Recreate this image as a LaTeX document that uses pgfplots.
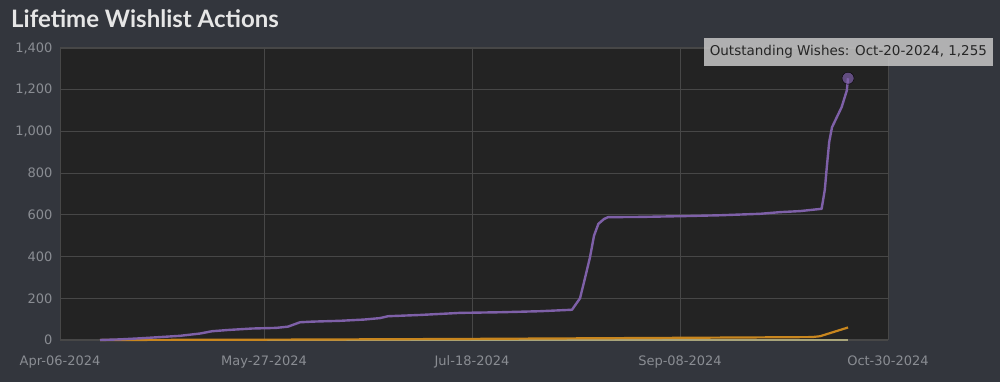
\documentclass[border=0pt]{standalone}
\usepackage{pgfplots}
\pgfplotsset{compat=1.18}
\usepackage{fontspec}
\setmainfont{DejaVu Sans}
\newfontfamily\titlefont{Lato}
\definecolor{figbg}{HTML}{33363D}
\definecolor{plotbg}{HTML}{232323}
\definecolor{gridc}{HTML}{474747}
\definecolor{tickc}{HTML}{8A8D93}
\definecolor{purp}{HTML}{7E60A8}
\definecolor{orng}{HTML}{C8861E}
\definecolor{oliv}{HTML}{A8A47A}
\definecolor{titlec}{HTML}{E6E6E6}
\begin{document}
\begin{tikzpicture}[x=1pt,y=1pt]
\fill[figbg] (0,0) rectangle (1000,382);
\useasboundingbox (0,0) rectangle (1000,382);
\node[anchor=base west, text=titlec, font=\titlefont\bfseries\fontsize{24}{27}\selectfont, inner sep=0pt] at (11,354) {Lifetime Wishlist Actions};
\begin{axis}[
  at={(60pt,42pt)}, anchor=south west,
  width=828pt, height=292pt, scale only axis,
  xmin=0, xmax=207, ymin=0, ymax=1400,
  axis background/.style={fill=plotbg},
  axis line style={draw=gridc, line width=1pt},
  xtick={0,51,103,155,207},
  xticklabels={Apr-06-2024,May-27-2024,Jul-18-2024,Sep-08-2024,Oct-30-2024},
  ytick={0,200,...,1400},
  grid=major,
  major grid style={draw=gridc, line width=0.9pt},
  tick style={draw=none},
  ticklabel style={text=tickc, font=\fontsize{13}{15}\selectfont},
  /pgf/number format/assume math mode=true,
  /pgf/number format/1000 sep={,},
  xticklabel style={yshift=-12pt},
  yticklabel style={xshift=-4pt},
  clip=false,
]
\addplot[oliv, line width=2.2pt] coordinates {(10,0) (197,0)};
\addplot[orng, line width=2.2pt] coordinates {
(10,0) (60,2) (100,5) (130,8) (150,10) (170,12) (188,14) (190,18) (197,60)};
\addplot[purp, line width=2.4pt, line join=round] coordinates {
(10,0) (15,3) (20,8) (25,14) (30,20) (35,31) (38,42) (42,48) (48,55) (54,58) (57,64)
(60,85) (63,88) (70,92) (76,98) (80,105) (82,114) (90,120) (100,130) (110,133)
(120,138) (128,145) (130,200) (131,277) (132.5,397) (133.5,500) (134.6,557) (136,580)
(137,589) (145,590) (156,594) (165,598) (175,605) (180,613) (185,618) (190.4,629)
(191.2,720) (191.7,829) (192.3,950) (193,1020) (195.4,1116) (196.7,1196) (197,1255)};
\addplot[only marks, mark=*, mark size=6pt, mark options={fill=purp, draw=none, fill opacity=0.7}] coordinates {(197,1255)};
\node[anchor=east, fill=white!55!gray, fill opacity=0.85, text opacity=1, text=black!85, inner xsep=6pt, minimum height=28pt, font=\fontsize{13.5}{15}\selectfont] at (axis cs:233.3,1381) {Outstanding Wishes: Oct-20-2024, 1,255};
\end{axis}
\end{tikzpicture}
\end{document}
